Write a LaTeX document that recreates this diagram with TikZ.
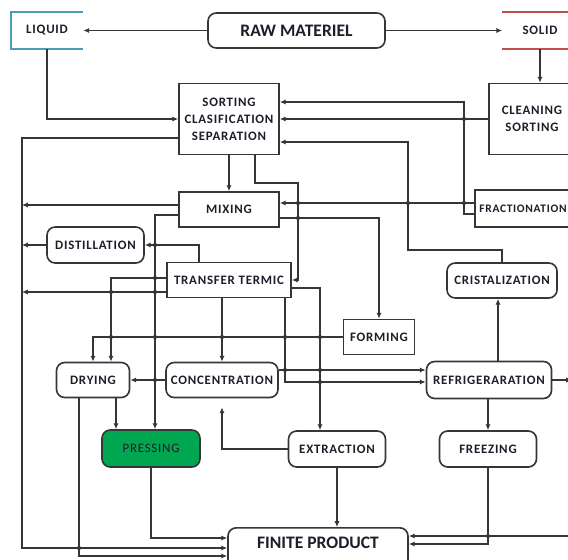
\documentclass[tikz,border=0pt]{standalone}
\usepackage{fontspec}
\setmainfont{Carlito}
\newfontfamily\lblfont[LetterSpace=6]{Carlito}
\usetikzlibrary{arrows.meta}
\newlength\pxu
\setlength\pxu{0.03cm}
\definecolor{linec}{HTML}{363636}
\definecolor{txtc}{HTML}{1E1E2A}
\definecolor{liqc}{HTML}{4A9DB5}
\definecolor{solc}{HTML}{C0504D}
\definecolor{pressc}{HTML}{00A650}
\newcommand\lbl{\lblfont\bfseries\fontsize{11}{14.5}\selectfont}
\newcommand\biglbl{\bfseries\fontsize{15}{18}\selectfont}
\tikzset{box/.style={draw=linec,line width=1.4pt,fill=white,inner sep=0pt,font=\lbl,text=txtc,align=center},
         rbox/.style={box,rounded corners=7pt},
         bare/.style={box,draw=none,fill=none},
         flow/.style={draw=linec,line width=1.3pt,-{Latex[length=5pt,width=4.5pt]}},
         jn/.style={fill=linec}}

\begin{document}
\begin{tikzpicture}[x=0.03cm,y=-0.03cm]
\useasboundingbox (0,0) rectangle (568,559);
\clip (0,0) rectangle (568,559);
\coordinate (bus) at (22,0);
\coordinate (redge) at (571,536);
\coordinate (rout) at (572,380);

\node[bare,minimum width=71\pxu,minimum height=35\pxu] (liquid) at (47,30.5) {LIQUID};
\draw[liqc,line width=1.4pt] (liquid.north east) -- (liquid.north west) -- (liquid.south west) -- (liquid.south east);
\node[rbox,font=\biglbl,minimum width=177\pxu,minimum height=35\pxu] (raw) at (296.5,30.5) {RAW MATERIEL};
\node[bare,minimum width=74\pxu,minimum height=35\pxu] (solid) at (540,30.5) {SOLID};
\draw[solc,line width=1.4pt] (solid.north west) -- ++(80,0) (solid.south west) -- ++(80,0);

\node[box,minimum width=100\pxu,minimum height=71\pxu] (sort) at (229,119) {SORTING\\CLASIFICATION\\SEPARATION};
\node[box,minimum width=86\pxu,minimum height=71\pxu] (clean) at (532,119) {CLEANING\\SORTING};
\node[box,minimum width=100\pxu,minimum height=35\pxu] (mix) at (229,209.5) {MIXING};
\node[box,font=\lblfont\bfseries\fontsize{9.8}{12}\selectfont,minimum width=96\pxu,minimum height=37\pxu] (frac) at (523,208.5) {FRACTIONATION};
\node[rbox,minimum width=97\pxu,minimum height=36\pxu] (dist) at (95.5,245) {DISTILLATION};
\node[box,minimum width=124\pxu,minimum height=35\pxu] (trans) at (229,280) {TRANSFER TERMIC};
\node[rbox,minimum width=110\pxu,minimum height=35\pxu] (cris) at (502,280.5) {CRISTALIZATION};
\node[box,minimum width=71\pxu,minimum height=35\pxu] (form) at (379,337) {FORMING};
\node[rbox,minimum width=73\pxu,minimum height=35\pxu] (dry) at (93,380) {DRYING};
\node[rbox,minimum width=112\pxu,minimum height=35\pxu] (conc) at (222,380) {CONCENTRATION};
\node[rbox,minimum width=125\pxu,minimum height=37\pxu] (refr) at (489,380) {REFRIGERARATION};
\node[rbox,fill=pressc,font=\lblfont\fontsize{11}{14}\selectfont,minimum width=98\pxu,minimum height=37\pxu] (press) at (151,448.5) {PRESSING};
\node[rbox,minimum width=97\pxu,minimum height=36\pxu] (extr) at (337,449) {EXTRACTION};
\node[rbox,minimum width=97\pxu,minimum height=36\pxu] (freez) at (488,449) {FREEZING};
\node[rbox,font=\biglbl,minimum width=180\pxu,text height=21\pxu,text depth=23\pxu,anchor=north] (finite) at (318,527) {FINITE PRODUCT};

\draw[flow] (raw.west) -- (liquid.east);
\draw[flow] (raw.east) -- (solid.west);
\draw[flow] (solid.south) -- (solid.south |- clean.north);
\draw[flow] (liquid.south) |- (sort.west);
\draw[flow] (sort.west |- 0,138) -| (bus |- 0,548) -- (finite.west |- 0,548);
\draw[flow] (sort.south) -- (mix.north);
\draw[flow] (sort.south -| 255,0) |- (298,183) |- (trans.east);
\draw[flow] (clean.west) -- (sort.east);
\draw[flow] (frac.west |- 0,214) -| (464,102) -- (sort.east |- 0,102);
\draw[flow] (cris.north) |- (408,250) |- (sort.east |- 0,142);
\draw[flow] (frac.west |- 0,203) -- (mix.east |- 0,203);
\draw[flow] (mix.east |- 0,218) -| (form.north);
\draw[flow] (mix.west |- 0,205) -- (bus |- 0,205);
\draw[flow] (mix.west |- 0,215) -| (press.north -| 155,0);
\draw[flow] (trans.north -| 199,0) |- (dist.east);
\draw[flow] (dist.west) -- (bus |- dist.west);
\draw[flow] (trans.west |- 0,292) -- (bus |- 0,292);
\draw[flow] (trans.west |- 0,278) -| (dry.north -| 111,0);
\draw[flow] (form.west) -| (dry.north);
\draw[flow] (trans.south -| conc.north) -- (conc.north);
\draw[flow] (trans.south -| 285,0) |- (refr.west |- 0,382);
\draw[flow] (conc.east |- 0,370) -- (refr.west |- 0,370);
\draw[flow] (trans.east |- 0,288) -| (extr.north -| 320,0);
\draw[flow] (conc.west) -- (dry.east);
\draw[flow] (dry.south -| 116,0) -- (press.north -| 116,0);
\draw[flow] (dry.south -| 79,0) |- (finite.west |- 0,556);
\draw[flow] (press.south) |- (finite.west |- 0,538);
\draw[flow] (extr.south) -- (extr.south |- finite.north);
\draw[flow] (extr.west) -| ([yshift=-9\pxu]conc.south);
\draw[flow] (refr.south -| freez.north) -- (freez.north);
\draw[flow] (freez.south) |- (finite.east |- 0,544);
\draw[flow] (redge) -- (finite.east |- 0,536);
\draw[flow] (refr.east) -- (rout);
\draw[flow] (refr.north -| 498,0) -- (cris.south -| 498,0);

\foreach \x/\y in {464/119,298/203,408/203,464/203,298/218,155/245,155/278,155/292,111/292,
                   111/337,155/337,222/337,285/337,320/337,285/370,320/370,320/382,
                   155/380,79/548,488/536}
  \fill[jn] (\x,\y) circle[radius=1.8pt];
\end{tikzpicture}
\end{document}
